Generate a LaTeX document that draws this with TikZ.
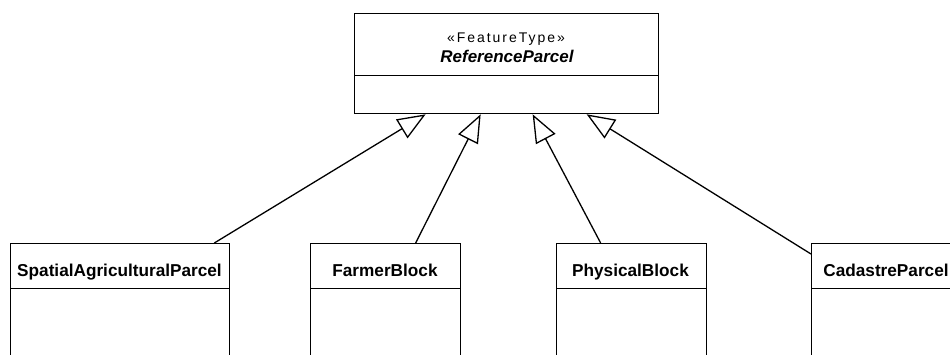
\documentclass[tikz,border=0pt]{standalone}
\usepackage{fontspec}
\setmainfont{Liberation Sans}
\usetikzlibrary{arrows.meta}
\begin{document}
\begin{tikzpicture}[x=1pt,y=-1pt,line width=1.3pt,
  box/.style={draw=black,fill=white,inner sep=0pt,anchor=north west},
  lab/.style={anchor=base,font=\fontsize{17.2}{20}\selectfont\bfseries},
  stereo/.style={anchor=base,font=\fontsize{14}{17}\selectfont\addfontfeature{LetterSpace=14}},
  gen/.style={-{Triangle[open,length=28pt,width=22pt,fill=white]}}]
\useasboundingbox (0,0) rectangle (950,354);
\clip (0,0) rectangle (950,354);
\fill[white] (0,0) rectangle (950,354);
% parent
\node[box,minimum width=304pt,minimum height=62pt] (refh) at (354,13) {};
\node[box,minimum width=304pt,minimum height=38pt] (refb) at (354,75) {};
\node[stereo] (st) at (506,42) {«FeatureType»};
\node[lab,font=\fontsize{17}{20}\selectfont\bfseries\itshape] (rn) at (507,62) {ReferenceParcel};
% children
\node[box,minimum width=219pt,minimum height=45pt] (saph) at (10,243) {};
\node[box,minimum width=219pt,minimum height=80pt] (sapb) at (10,288) {};
\node[lab] (sapt) at (119.5,276) {SpatialAgriculturalParcel};
\node[box,minimum width=150pt,minimum height=45pt] (fbh) at (310,243) {};
\node[box,minimum width=150pt,minimum height=80pt] (fbb) at (310,288) {};
\node[lab] (fbt) at (385,276) {FarmerBlock};
\node[box,minimum width=150pt,minimum height=45pt] (pbh) at (555.5,243) {};
\node[box,minimum width=150pt,minimum height=80pt] (pbb) at (555.5,288) {};
\node[lab] (pbt) at (630.5,276) {PhysicalBlock};
\node[box,minimum width=150pt,minimum height=45pt] (cph) at (811,243) {};
\node[box,minimum width=150pt,minimum height=80pt] (cpb) at (811,288) {};
\node[lab] (cpt) at (886,276) {CadastreParcel};
% generalisations
\draw[gen] ([xshift=-16pt]saph.north east) -- ([xshift=-81pt]refb.south);
\draw[gen] ([xshift=30pt]fbh.north) -- ([xshift=-26pt]refb.south);
\draw[gen] ([xshift=-30.5pt]pbh.north) -- ([xshift=26pt]refb.south);
\draw[gen] ([yshift=-11pt]cph.north west) -- ([xshift=80pt]refb.south);
\end{tikzpicture}
\end{document}
